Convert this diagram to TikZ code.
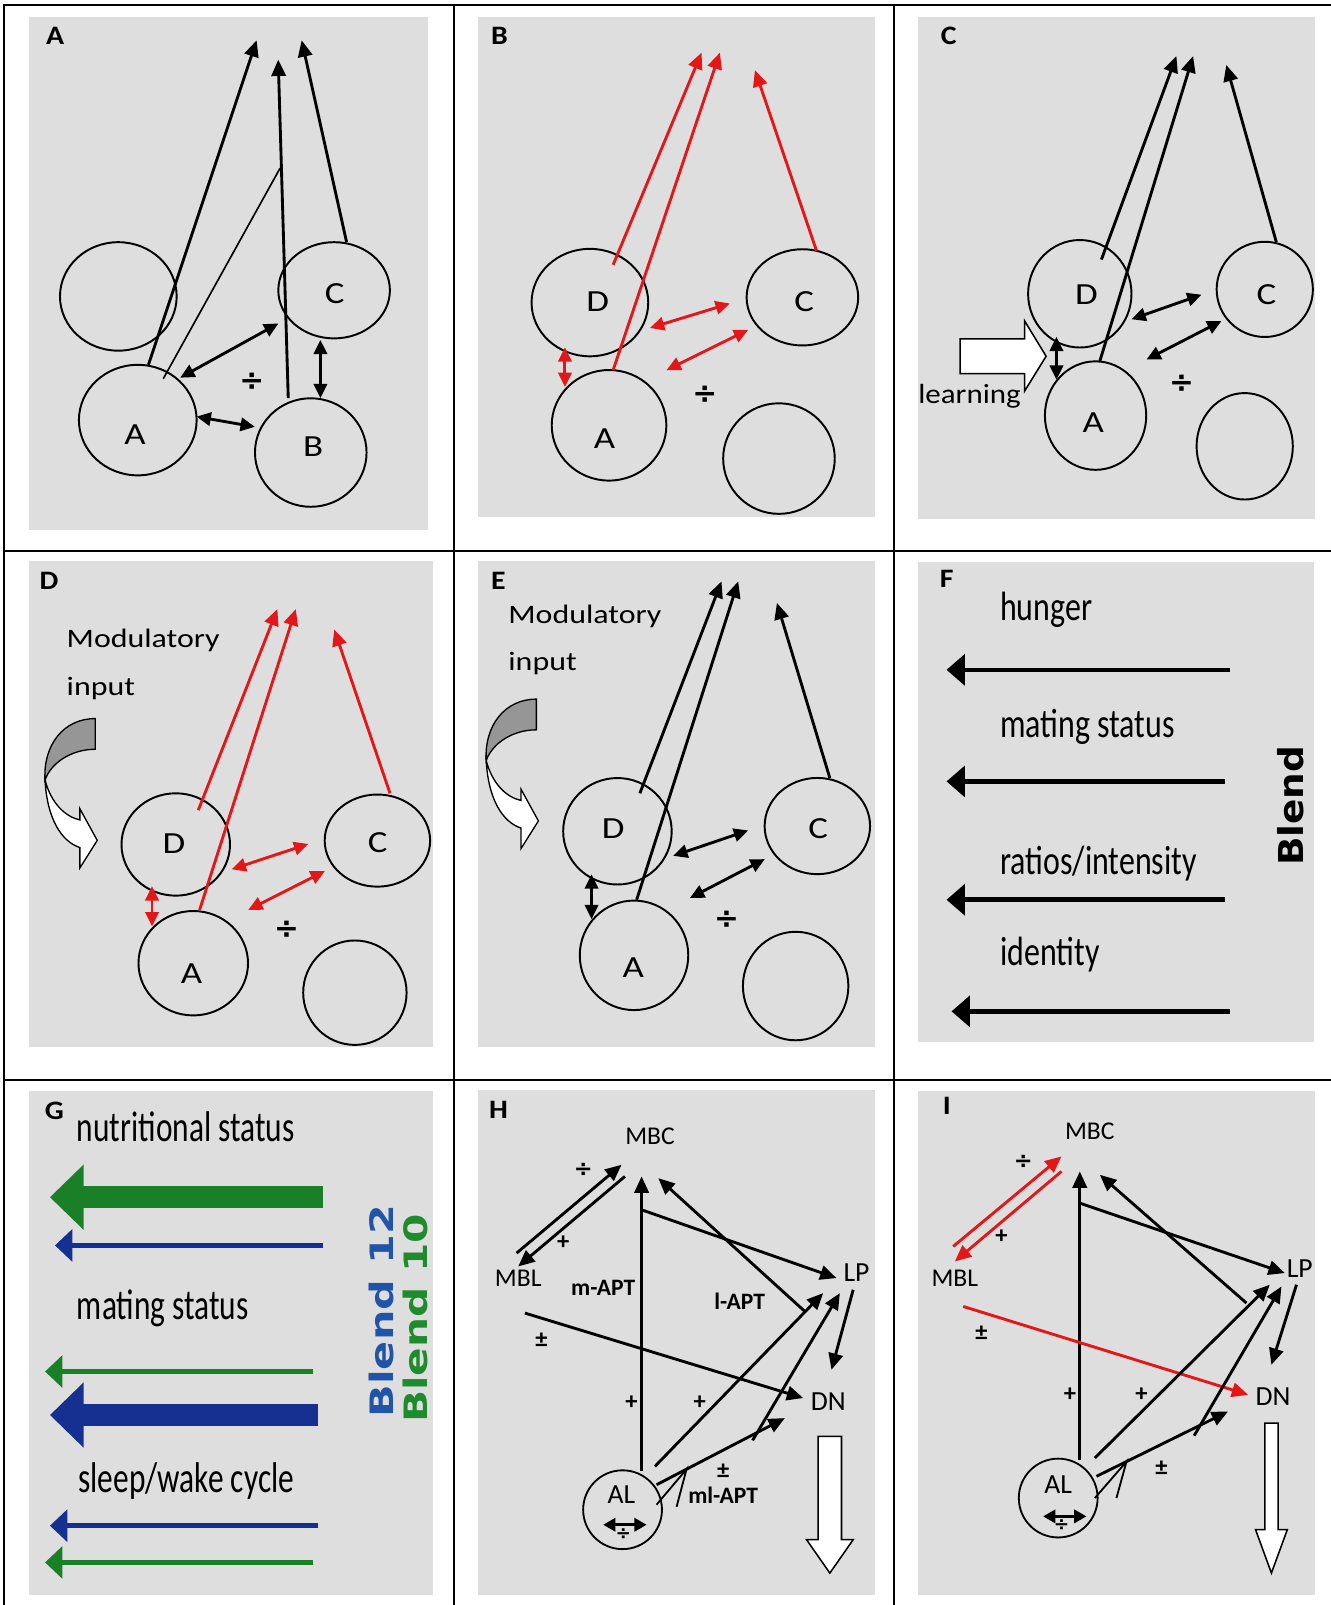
\documentclass[tikz,border=0pt]{standalone}
\usepackage{fontspec}
\setmainfont{Carlito}
\newfontfamily\condF[FakeStretch=0.78]{Carlito}
\newfontfamily\condG[FakeStretch=0.73]{Carlito}
\newfontfamily\wideF[FakeStretch=1.2]{Carlito}
\newfontfamily\labF[FakeStretch=1.12]{Carlito}
\newfontfamily\dvs{DejaVu Sans}
\usetikzlibrary{arrows.meta,shapes.geometric}
\definecolor{bgray}{RGB}{222,222,222}
\definecolor{myred}{RGB}{228,22,24}
\definecolor{mygreen}{RGB}{26,128,40}
\definecolor{myblue}{RGB}{22,48,145}
\definecolor{bluetxt}{RGB}{32,84,168}
\definecolor{greentxt}{RGB}{30,140,45}
\definecolor{darkgr}{RGB}{150,150,150}
\tikzset{
  circ/.style={draw, line width=1.9pt, ellipse, inner sep=0pt},
  lett/.style={inner sep=0pt, font=\wideF\fontsize{30}{30}\selectfont},
  plab/.style={inner sep=0pt, font=\labF\bfseries\fontsize{26}{26}\selectfont},
  sym/.style={inner sep=0pt, font=\dvs\bfseries\fontsize{29}{29}\selectfont},
  ar/.style={line width=2.8pt, -{Triangle[length=16pt,width=14pt]}},
  dar/.style={line width=2.8pt, {Triangle[length=14pt,width=13pt]}-{Triangle[length=14pt,width=13pt]}},
  thinline/.style={line width=1.6pt},
  gridline/.style={line width=2pt},
  ftxt/.style={inner sep=0pt, anchor=base west, font=\condF\fontsize{40}{40}\selectfont},
  gtxt/.style={inner sep=0pt, anchor=base west, font=\condG\fontsize{42}{42}\selectfont},
  mtxt/.style={inner sep=0pt, anchor=base west, font=\wideF\fontsize{26}{26}\selectfont},
  farr/.style={line width=4.5pt, -{Triangle[length=18pt,width=30pt]}},
  gthin/.style={line width=5pt, -{Triangle[length=17pt,width=31pt]}},
  gthick/.style={line width=22pt, -{Triangle[length=33pt,width=62pt]}},
  hlab/.style={inner sep=0pt, font=\fontsize{25}{25}\selectfont},
  hlabb/.style={inner sep=0pt, font=\fontsize{27}{27}\selectfont},
  hbold/.style={inner sep=0pt, font=\bfseries\fontsize{23}{23}\selectfont},
  hsym/.style={inner sep=0pt, font=\bfseries\fontsize{24}{24}\selectfont},
  hdiv/.style={inner sep=0pt, font=\dvs\bfseries\fontsize{22}{22}\selectfont},
  hollow/.style={draw, fill=white, line width=1.5pt, line join=miter},
  alcirc/.style={draw, circle, line width=1.8pt, minimum size=77pt, inner sep=0pt},
  hdar/.style={line width=2.6pt, {Triangle[length=12pt,width=13pt]}-{Triangle[length=12pt,width=13pt]}},
}
\begin{document}
\begin{tikzpicture}[x=1pt,y=-1pt]
\useasboundingbox (0,0) rectangle (1300,1568);
\fill[white] (0,0) rectangle (1300,1568);
% panel backgrounds
\fill[bgray] (28,17) rectangle (418,518);
\fill[bgray] (467,17) rectangle (855,505);
\fill[bgray] (897,17) rectangle (1285,507);
\fill[bgray] (28,548) rectangle (423,1023);
\fill[bgray] (467,548) rectangle (855,1023);
\fill[bgray] (897,549) rectangle (1284,1018);
\fill[bgray] (28,1066) rectangle (423,1558);
\fill[bgray] (467,1065) rectangle (855,1558);
\fill[bgray] (897,1066) rectangle (1285,1558);
% grid
\draw[gridline] (3,5) -- (1300,5);
\draw[gridline] (4,4) -- (4,1568);
\draw[gridline] (443.5,5) -- (443.5,1568);
\draw[gridline] (873,5) -- (873,1568);
\draw[gridline] (4,538) -- (1300,538);
\draw[gridline] (4,1055) -- (1300,1055);

% ================= Panel A
\node[plab] (aL) at (54,35) {A};
\node[circ, minimum width=114pt, minimum height=106pt] (aX) at (115.6,289.6) {};
\node[circ, minimum width=115pt, minimum height=108pt] (aA) at (134.6,410.4) {};
\node[circ, minimum width=109pt, minimum height=106pt] (aB) at (303.6,442.1) {};
\node[circ, minimum width=109pt, minimum height=94pt] (aC) at (326.4,283.6) {};
\node[lett] (aAt) at (132,425) {A};
\node[lett] (aBt) at (306,436) {B};
\node[lett] (aCt) at (327,287) {C};
\coordinate (a1s) at (145,356.4); \coordinate (a1t) at (250.7,39.4);
\coordinate (a2s) at (159.5,370); \coordinate (a2t) at (273.5,164.5);
\coordinate (a3s) at (281.6,389); \coordinate (a3t) at (271.8,58.3);
\coordinate (a4s) at (338.6,236.5); \coordinate (a4t) at (294.7,39.4);
\coordinate (a5s) at (176,369); \coordinate (a5t) at (272,316);
\coordinate (a6s) at (192,407); \coordinate (a6t) at (249,417);
\coordinate (a7s) at (313,332); \coordinate (a7t) at (313,389);
\draw[ar] (a1s) -- (a1t);
\draw[thinline] (a2s) -- (a2t);
\draw[ar] (a3s) -- (a3t);
\draw[ar] (a4s) -- (a4t);
\draw[dar] (a5s) -- (a5t);
\draw[dar] (a6s) -- (a6t);
\draw[dar] (a7s) -- (a7t);
\node[sym] (aDiv) at (246,373) {÷};

% ================= Panel B
\node[plab] (bL) at (488,35) {B};
\node[circ, minimum width=114pt, minimum height=105pt] (bD) at (576.3,295.6) {};
\node[circ, minimum width=109pt, minimum height=94pt] (bC) at (783.9,290.5) {};
\node[circ, minimum width=112pt, minimum height=108pt] (bA) at (595,415.5) {};
\node[circ, minimum width=109pt, minimum height=108pt] (bX) at (761,448) {};
\node[lett] (bDt) at (584,294.7) {D};
\node[lett] (bCt) at (785.6,294.7) {C};
\node[lett] (bAt) at (590.6,428.4) {A};
\coordinate (b1s) at (599,258.7); \coordinate (b1t) at (685.4,51.4);
\coordinate (b2s) at (599,361.6); \coordinate (b2t) at (703.3,51.4);
\coordinate (b3s) at (797.7,245); \coordinate (b3t) at (737.5,68.5);
\coordinate (b4s) at (551.9,339.3); \coordinate (b4t) at (551.9,378);
\coordinate (b5s) at (634.9,320.4); \coordinate (b5t) at (713,296.5);
\coordinate (b6s) at (651.1,361.6); \coordinate (b6t) at (730.9,322.2);
\draw[ar, myred] (b1s) -- (b1t);
\draw[ar, myred] (b2s) -- (b2t);
\draw[ar, myred] (b3s) -- (b3t);
\draw[dar, myred] (b4s) -- (b4t);
\draw[dar, myred] (b5s) -- (b5t);
\draw[dar, myred] (b6s) -- (b6t);
\node[sym] (bDiv) at (688.6,385.6) {÷};

% ================= Panel C
\node[plab] (cL) at (927,35) {C};
\node[circ, minimum width=101pt, minimum height=105pt] (cD) at (1054.9,287) {};
\node[circ, minimum width=94pt, minimum height=93pt] (cC) at (1235.6,282.7) {};
\node[circ, minimum width=99pt, minimum height=106pt] (cA) at (1070.3,406) {};
\node[circ, minimum width=94pt, minimum height=104pt] (cX) at (1216,436) {};
\node[lett] (cDt) at (1061.4,287.9) {D};
\node[lett] (cCt) at (1237.2,287.9) {C};
\node[lett] (cAt) at (1068,413) {A};
\coordinate (c1s) at (1076,253.6); \coordinate (c1t) at (1149.3,54.8);
\coordinate (c2s) at (1074.4,353); \coordinate (c2t) at (1165.6,54.8);
\coordinate (c3s) at (1246.9,236.5); \coordinate (c3t) at (1198,63.4);
\coordinate (c4s) at (1032.1,329); \coordinate (c4t) at (1032.1,371);
\coordinate (c5s) at (1105.4,311.9); \coordinate (c5t) at (1173.8,287.9);
\coordinate (c6s) at (1120,351.3); \coordinate (c6t) at (1193.3,313.6);
\draw[ar] (c1s) -- (c1t);
\draw[ar] (c2s) -- (c2t);
\draw[ar] (c3s) -- (c3t);
\draw[dar] (c4s) -- (c4t);
\draw[dar] (c5s) -- (c5t);
\draw[dar] (c6s) -- (c6t);
\node[sym] (cDiv) at (1154.2,375.3) {÷};
\draw[hollow] (938,331) -- (1001,331) -- (1001,313.6) -- (1022,348) -- (1001,382) -- (1001,365) -- (938,365) -- cycle;
\node[mtxt, font=\labF\fontsize{27}{27}\selectfont] (cLearn) at (897,394) {learning};

% ================= Panel D
\node[plab] (dL) at (48,567) {D};
\node[mtxt] (dMod) at (65,633) {Modulatory};
\node[mtxt] (dInp) at (65,679) {input};
\fill[darkgr, draw=black, line width=1.3pt] (93,702) -- (93,732) .. controls (70,732) and (50,745) .. (44,762) .. controls (42,728) and (62,702) .. (93,702) -- cycle;
\draw[fill=white, line width=1.3pt, line join=miter] (44,762) .. controls (46,800) and (60,822) .. (78,828) -- (78,848) -- (95,821) -- (78,790) -- (78,801) .. controls (64,798) and (50,785) .. (44,762) -- cycle;
\node[circ, minimum width=106pt, minimum height=100pt] (dD) at (171.7,825) {};
\node[circ, minimum width=103pt, minimum height=90pt] (dC) at (368.7,821.2) {};
\node[circ, minimum width=107pt, minimum height=102pt] (dA) at (188.8,941) {};
\node[circ, minimum width=101pt, minimum height=102pt] (dX) at (346.7,969.8) {};
\node[lett] (dDt) at (170,824) {D};
\node[lett] (dCt) at (369,823) {C};
\node[lett] (dAt) at (187,951) {A};
\coordinate (d1s) at (193.7,791.5); \coordinate (d1t) at (271,595);
\coordinate (d2s) at (195,889); \coordinate (d2t) at (289,595);
\coordinate (d3s) at (381,775); \coordinate (d3t) at (326.5,615);
\coordinate (d4s) at (148.5,865.8); \coordinate (d4t) at (148.5,905);
\coordinate (d5s) at (226.3,849.3); \coordinate (d5t) at (301.2,824.5);
\coordinate (d6s) at (242.5,888.9); \coordinate (d6t) at (317.4,851);
\draw[ar, myred] (d1s) -- (d1t);
\draw[ar, myred] (d2s) -- (d2t);
\draw[ar, myred] (d3s) -- (d3t);
\draw[dar, myred] (d4s) -- (d4t);
\draw[dar, myred] (d5s) -- (d5t);
\draw[dar, myred] (d6s) -- (d6t);
\node[sym] (dDiv) at (280,908.7) {÷};

% ================= Panel E
\node[plab] (eL) at (487,567) {E};
\node[mtxt] (eMod) at (496.5,609) {Modulatory};
\node[mtxt] (eInp) at (496.5,655) {input};
\begin{scope}[shift={(431,-19)}]
\fill[darkgr, draw=black, line width=1.3pt] (93,702) -- (93,732) .. controls (70,732) and (50,745) .. (44,762) .. controls (42,728) and (62,702) .. (93,702) -- cycle;
\draw[fill=white, line width=1.3pt, line join=miter] (44,762) .. controls (46,800) and (60,822) .. (78,828) -- (78,848) -- (95,821) -- (78,790) -- (78,801) .. controls (64,798) and (50,785) .. (44,762) -- cycle;
\end{scope}
\node[circ, minimum width=106pt, minimum height=104pt] (eD) at (603.2,812.1) {};
\node[circ, minimum width=103pt, minimum height=94pt] (eC) at (798.5,807) {};
\node[circ, minimum width=106pt, minimum height=107pt] (eA) at (619.4,933.3) {};
\node[circ, minimum width=103pt, minimum height=106pt] (eX) at (777.3,963.3) {};
\node[lett] (eDt) at (599,809.6) {D};
\node[lett] (eCt) at (799.3,809.6) {C};
\node[lett] (eAt) at (618.6,945) {A};
\coordinate (e1s) at (625.1,775); \coordinate (e1t) at (704.9,568);
\coordinate (e2s) at (622,879); \coordinate (e2t) at (721.2,568);
\coordinate (e3s) at (810.7,760.1); \coordinate (e3t) at (759,589);
\coordinate (e4s) at (577.9,854.2); \coordinate (e4t) at (577.9,898);
\coordinate (e5s) at (657.7,836.1); \coordinate (e5t) at (730.9,811.3);
\coordinate (e6s) at (674,877.3); \coordinate (e6t) at (747.2,839.3);
\draw[ar] (e1s) -- (e1t);
\draw[ar] (e2s) -- (e2t);
\draw[ar] (e3s) -- (e3t);
\draw[dar] (e4s) -- (e4t);
\draw[dar] (e5s) -- (e5t);
\draw[dar] (e6s) -- (e6t);
\node[sym] (eDiv) at (709.8,898.8) {÷};

% ================= Panel F
\node[plab] (fL) at (925,566) {F};
\node[ftxt] (fHun) at (976.8,606.6) {hunger};
\node[ftxt] (fMat) at (976.8,720.5) {mating status};
\node[ftxt] (fRat) at (976.8,854.2) {ratios/intensity};
\node[ftxt] (fIde) at (976.8,943.4) {identity};
\coordinate (f1s) at (1201.4,654.4); \coordinate (f1t) at (924.7,654.4);
\coordinate (f2s) at (1196.5,763.4); \coordinate (f2t) at (924.7,763.4);
\coordinate (f3s) at (1196.5,879); \coordinate (f3t) at (924.7,879);
\coordinate (f4s) at (1201.4,988); \coordinate (f4t) at (929.6,988);
\draw[farr] (f1s) -- (f1t);
\draw[farr] (f2s) -- (f2t);
\draw[farr] (f3s) -- (f3t);
\draw[farr] (f4s) -- (f4t);
\node[rotate=90, inner sep=0pt, font=\dvs\bfseries\fontsize{33.5}{33.5}\selectfont] (fBl) at (1260.8,787.4) {\scalebox{1.09}[1]{Blend}};

% ================= Panel G
\node[plab] (gL) at (53,1085) {G};
\node[gtxt] (gNut) at (75,1115.5) {nutritional status};
\node[gtxt] (gMat) at (75,1289.3) {mating status};
\node[gtxt] (gSle) at (76.5,1458) {sleep/wake cycle};
\coordinate (g1s) at (315.8,1169.6); \coordinate (g1t) at (48.8,1169.6);
\coordinate (g2s) at (315.8,1216.7); \coordinate (g2t) at (53.7,1216.7);
\coordinate (g3s) at (306,1339.9); \coordinate (g3t) at (44,1339.9);
\coordinate (g4s) at (311,1382.4); \coordinate (g4t) at (48.8,1382.4);
\coordinate (g5s) at (311,1490.5); \coordinate (g5t) at (48.8,1490.5);
\coordinate (g6s) at (306,1526.4); \coordinate (g6t) at (44,1526.4);
\draw[gthick, mygreen] (g1s) -- (g1t);
\draw[gthin, myblue] (g2s) -- (g2t);
\draw[gthin, mygreen] (g3s) -- (g3t);
\draw[gthick, myblue] (g4s) -- (g4t);
\draw[gthin, myblue] (g5s) -- (g5t);
\draw[gthin, mygreen] (g6s) -- (g6t);
\node[rotate=90, inner sep=0pt, text=bluetxt, font=\dvs\bfseries\fontsize{31.5}{31.5}\selectfont] (gB12) at (372.8,1281) {\scalebox{1.33}[1]{Blend 12}};
\node[rotate=90, inner sep=0pt, text=greentxt, font=\dvs\bfseries\fontsize{31.5}{31.5}\selectfont] (gB10) at (406.2,1288) {\scalebox{1.31}[1]{Blend 10}};

% ================= Panel H
\node[plab] (hL) at (487,1084) {H};
\node[hlab] (hMBC) at (635,1110) {MBC};
\node[hlab] (hMBL) at (506.3,1248.6) {MBL};
\node[hlabb] (hLP) at (836.8,1243.7) {LP};
\node[hlabb] (hDN) at (809.1,1369.1) {DN};
\node[alcirc] (hAL) at (608.2,1474.9) {};
\node[hlabb] (hALt) at (607.2,1460.3) {AL};
\node[hbold] (hmA) at (589.3,1258.4) {m-APT};
\node[hbold] (hlA) at (722.6,1271.4) {l-APT};
\node[hbold] (hmlA) at (706.5,1461) {ml-APT};
\node[hdiv] (hs1) at (569.8,1142.8) {÷};
\node[hsym] (hs2) at (550.3,1214.4) {+};
\node[hsym] (hs3) at (529.1,1308.9) {±};
\node[hsym] (hs4) at (617,1370.7) {+};
\node[hsym] (hs5) at (683.7,1370.7) {+};
\node[hsym] (hs6) at (706.5,1437) {±};
\coordinate (h1s) at (504.7,1224.2); \coordinate (h1t) at (607.2,1137.9);
\coordinate (h2s) at (610.5,1149.3); \coordinate (h2t) at (506.3,1237.2);
\coordinate (h3s) at (626.8,1437); \coordinate (h3t) at (626.8,1149.3);
\coordinate (h4s) at (626.8,1181.9); \coordinate (h4t) at (817.2,1248.6);
\coordinate (h5s) at (786.3,1281.2); \coordinate (h5t) at (643.1,1151);
\coordinate (h6s) at (512.8,1282.8); \coordinate (h6t) at (784.7,1365.8);
\coordinate (h7s) at (639.8,1432.6); \coordinate (h7t) at (804.2,1263.3);
\coordinate (h8s) at (641.4,1450.5); \coordinate (h8t) at (766.8,1385.4);
\coordinate (h9s) at (735.2,1407.2); \coordinate (h9t) at (820.5,1263.3);
\coordinate (h10s) at (833.5,1260); \coordinate (h10t) at (812.3,1338.2);
\coordinate (hf1) at (641.4,1470); \coordinate (hf2) at (670.7,1435.3); \coordinate (hf3) at (661,1472);
\draw[ar] (h1s) -- (h1t);
\draw[ar] (h2s) -- (h2t);
\draw[ar] (h3s) -- (h3t);
\draw[ar] (h4s) -- (h4t);
\draw[ar] (h5s) -- (h5t);
\draw[ar] (h6s) -- (h6t);
\draw[ar] (h7s) -- (h7t);
\draw[ar] (h8s) -- (h8t);
\draw[ar] (h9s) -- (h9t);
\draw[ar] (h10s) -- (h10t);
\draw[line width=1.8pt] (hf1) -- (hf2) -- (hf3);
\coordinate (hd1) at (589.3,1489.6); \coordinate (hd2) at (631.7,1489.6);
\draw[hdar] (hd1) -- (hd2);
\node[hdiv, font=\dvs\bfseries\fontsize{18}{18}\selectfont] (hs7) at (609,1499) {÷};
\draw[hollow] (799.3,1403.3) -- (822.1,1403.3) -- (822.1,1504.2) -- (833.5,1504.2) -- (810.7,1536.8) -- (788,1504.2) -- (799.3,1504.2) -- cycle;

% ================= Panel I
\node[plab] (iL) at (925,1080) {I};
\node[hlab] (iMBC) at (1064.7,1105.4) {MBC};
\node[hlab] (iMBL) at (932.8,1248.6) {MBL};
\node[hlabb] (iLP) at (1269.8,1238.9) {LP};
\node[hlabb] (iDN) at (1243.8,1364.2) {DN};
\node[alcirc] (iAL) at (1033.8,1463.5) {};
\node[hlabb] (iALt) at (1033.8,1450.5) {AL};
\node[hdiv] (is1) at (999.6,1134.7) {÷};
\node[hsym] (is2) at (978.4,1207.9) {+};
\node[hsym] (is3) at (958.9,1302.3) {±};
\node[hsym] (is4) at (1045.2,1362.6) {+};
\node[hsym] (is5) at (1115.2,1362.6) {+};
\node[hsym] (is6) at (1134.7,1434.2) {±};
\coordinate (i1s) at (931.2,1217.7); \coordinate (i1t) at (1037,1129.8);
\coordinate (i2s) at (1037,1144.4); \coordinate (i2t) at (932.8,1232.3);
\coordinate (i3s) at (1054.9,1426); \coordinate (i3t) at (1054.9,1144.4);
\coordinate (i4s) at (1054.9,1175.4); \coordinate (i4t) at (1255.2,1243.7);
\coordinate (i5s) at (1217.7,1273); \coordinate (i5t) at (1074.5,1147.7);
\coordinate (i6s) at (941,1276.3); \coordinate (i6t) at (1219.4,1362.6);
\coordinate (i7s) at (1069.6,1424.4); \coordinate (i7t) at (1240.5,1255.1);
\coordinate (i8s) at (1071.2,1442.3); \coordinate (i8t) at (1199.8,1378.9);
\coordinate (i9s) at (1166.6,1402.6); \coordinate (i9t) at (1251.9,1256.8);
\coordinate (i10s) at (1266.6,1255.1); \coordinate (i10t) at (1242.1,1333.3);
\coordinate (if1) at (1069.6,1463.5); \coordinate (if2) at (1100.5,1427.9); \coordinate (if3) at (1090.7,1463.5);
\draw[ar, myred] (i1s) -- (i1t);
\draw[ar, myred] (i2s) -- (i2t);
\draw[ar] (i3s) -- (i3t);
\draw[ar] (i4s) -- (i4t);
\draw[ar] (i5s) -- (i5t);
\draw[ar, myred] (i6s) -- (i6t);
\draw[ar] (i7s) -- (i7t);
\draw[ar] (i8s) -- (i8t);
\draw[ar] (i9s) -- (i9t);
\draw[ar] (i10s) -- (i10t);
\draw[line width=1.8pt] (if1) -- (if2) -- (if3);
\coordinate (id1) at (1019.1,1481.4); \coordinate (id2) at (1061.4,1481.4);
\draw[hdar] (id1) -- (id2);
\node[hdiv, font=\dvs\bfseries\fontsize{18}{18}\selectfont] (is7) at (1037,1490) {÷};
\draw[hollow] (1235.6,1390.2) -- (1248.6,1390.2) -- (1248.6,1494.4) -- (1257.6,1494.4) -- (1242.1,1536.8) -- (1226.6,1494.4) -- (1235.6,1494.4) -- cycle;
\end{tikzpicture}
\end{document}
